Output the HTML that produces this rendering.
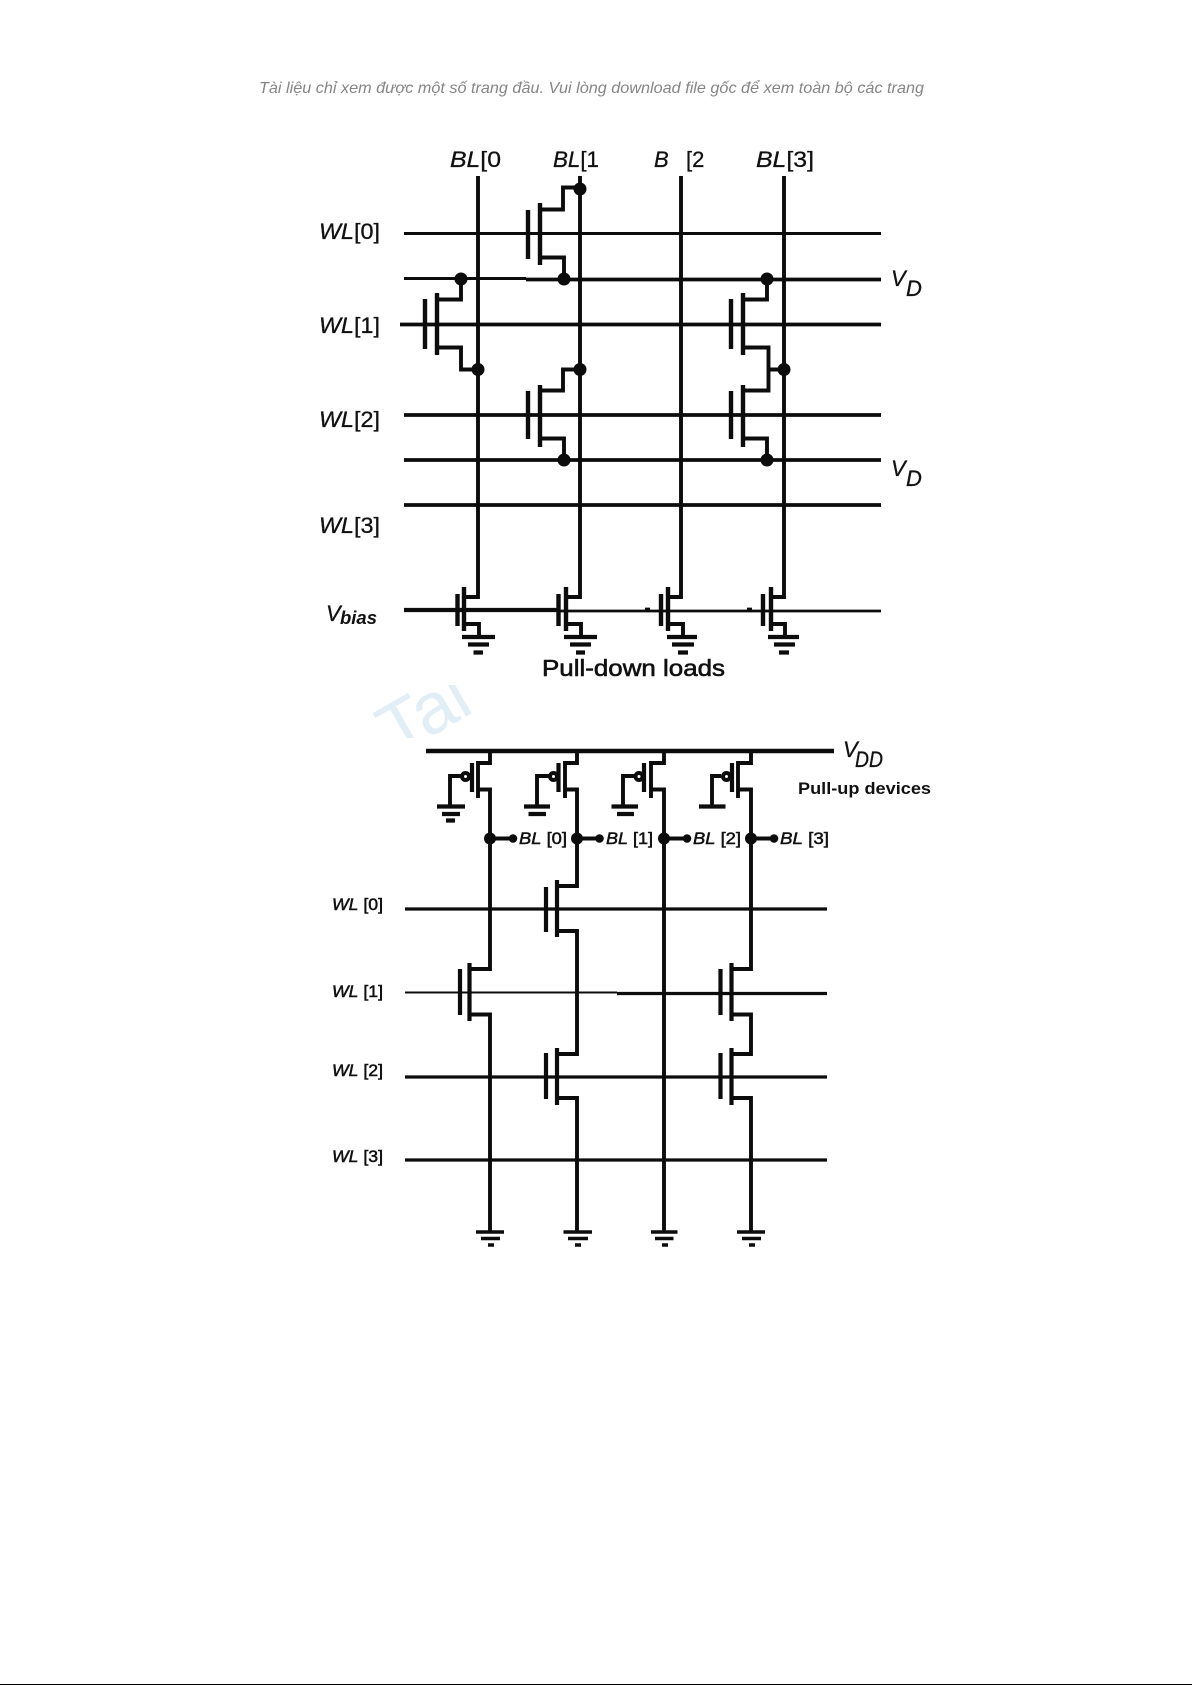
<!DOCTYPE html>
<html><head><meta charset="utf-8"><style>
html,body{margin:0;padding:0;background:#fff}
svg{display:block}
text{font-family:"Liberation Sans",sans-serif;fill:#111}
.i{font-style:italic}
</style></head><body>
<svg width="1192" height="1685" viewBox="0 0 1192 1685" xmlns="http://www.w3.org/2000/svg">
<rect width="1192" height="1685" fill="#fff"/>
<rect y="1684" width="1192" height="1" fill="#000"/>
<text x="259" y="93" class="i" font-size="16" style="fill:#858585" textLength="665" lengthAdjust="spacingAndGlyphs">Tài liệu chỉ xem được một số trang đầu. Vui lòng download file gốc để xem toàn bộ các trang</text>

<defs><clipPath id="wm"><rect x="360" y="685" width="175" height="53"/></clipPath></defs>
<g clip-path="url(#wm)"><text transform="translate(396 757) rotate(-30)" font-size="72" style="fill:#e2eef6">Tai</text></g>

<g fill="none" stroke="#0c0c0c" stroke-width="3.9">
<!-- top horizontals -->
<path d="M404 233.5H881M404 278.5H526" stroke-width="3"/>
<path d="M526 279.5H881M400 324.5H881M404 415H881M404 460H881M404 505H881" stroke-width="3.8"/>
<path d="M404 610H559" stroke-width="4.2"/>
<path d="M559 611H881M645 609h5M747 609h5" stroke-width="2.8"/>
<!-- bit lines top -->
<path d="M478 176V597H464M580 176V597H566M681 176V597H668M784 176V597H771"/>
<!-- T BL1 WL0 -->
<path d="M528 210V259M540 203V265" stroke-width="4.4"/>
<path d="M540 209.5H563V187.5H580M540 257.5H564V279"/>
<!-- T BL0 WL1 -->
<path d="M425 299V349M437 293V355" stroke-width="4.4"/>
<path d="M437 299.500H461V279M437 347.500H461V369.500H478"/>
<!-- T BL1 WL2 -->
<path d="M528 391V439M540 385V447" stroke-width="4.4"/>
<path d="M540 390.500H563V369.500H580M540 438.500H564V460"/>
<!-- T BL3 WL1/WL2 -->
<path d="M731 299V349M743 293V355M731 391V439M743 385V447" stroke-width="4.4"/>
<path d="M743 299.500H767V279M743 347.500H768.500V390.500H743M768.500 369.500H784M743 438.500H767V460"/>
<!-- pull-down loads -->
<path d="M457.500 594V626M464 587V631M558.500 594V626M566 587V631M661 594V626M668 587V631M763 594V626M771 587V631" stroke-width="4.4"/>
<path d="M464 624H479V637M566 624H581V637M668 624H683V637M771 624H785V637"/>
<path d="M462 637H495M468 644.500H489M473.500 652.500H483M564 637H597M570 644.500H591M576 652.500H585M667 637H697M672 644.500H694M678 652.500H688M768 637H799M774 644.500H795M779 652.500H789" stroke-width="4.200"/>
</g>
<g fill="#0c0c0c">
<circle cx="580" cy="189" r="6.500"/><circle cx="461" cy="279" r="6.500"/><circle cx="564" cy="279" r="6.500"/><circle cx="767" cy="279" r="6.500"/>
<circle cx="478" cy="369.500" r="6.500"/><circle cx="580" cy="369.500" r="6.500"/><circle cx="784" cy="369.500" r="6.500"/><circle cx="564" cy="460" r="6.500"/><circle cx="767" cy="460" r="6.500"/>
</g>

<!-- lower circuit -->
<g fill="none" stroke="#0c0c0c" stroke-width="3.9">
<path d="M426 751H834" stroke-width="4.400"/>
<path d="M405 909H827M405 1077H827M405 1160H827" stroke-width="3.200"/>
<path d="M405 992.500H617" stroke-width="2"/>
<path d="M617 993.500H827" stroke-width="3.200"/>
<!-- PMOS -->
<path d="M490 753V763H478V798M478 789.500H490V969H469.500M490 1014.500H469.500H490V1232"/>
<path d="M577 753V763H565V798M565 789.500H577V886H557M557 931H577V1054H557M557 1098H577V1232"/>
<path d="M664 753V763H651V798M651 789.500H664V1232"/>
<path d="M751 753V763H738V798M738 789.500H751V969H731.500M731.500 1014.500H751V1054H731.500M731.500 1098H751V1232"/>
<path d="M472 763V792M558.500 763V792M644 763V792M732 763V792" stroke-width="4.200"/>
<path d="M461 776H450V806M550 776H537V806M634 776H623V806M721 776H712V806"/>
<path d="M437 806.500H465M442 814H460M446 820.500H455M524 806.500H550M528.500 814H546M611.500 806.500H638M617 814H634M699 806.500H725.500" stroke-width="4.200"/>
<circle cx="465.500" cy="776.500" r="3.500" stroke-width="4"/><circle cx="553.500" cy="776.500" r="3.500" stroke-width="4"/><circle cx="639" cy="776.500" r="3.500" stroke-width="4"/><circle cx="726.500" cy="776.500" r="3.500" stroke-width="4"/>
<path d="M490 838.500H513M577 838.500H599.500M664 838.500H687M751 838.500H774"/>
<!-- lower NMOS -->
<path d="M546 887V932M557 880V937M460 969V1015M469.500 963V1021M546 1053V1099M557 1048V1105M720.500 969V1015M731.500 963V1021M720.500 1053V1099M731.500 1048V1105" stroke-width="4.200"/>
<!-- grounds -->
<path d="M476 1232H504M481 1238.500H500M488 1245H494M563.500 1232H592M568 1238.500H588M575 1245H581M651 1232H677.500M655 1238.500H673.500M662 1245H668M737 1232H765M742 1238.500H761M749 1245H755" stroke-width="3.500"/>
</g>
<g fill="#0c0c0c">
<circle cx="490" cy="838.500" r="6"/><circle cx="513" cy="838.500" r="4.300"/><circle cx="577" cy="838.500" r="6"/><circle cx="599.500" cy="838.500" r="4.300"/><circle cx="664" cy="838.500" r="6"/><circle cx="687" cy="838.500" r="4.300"/><circle cx="751" cy="838.500" r="6"/><circle cx="774" cy="838.500" r="4.300"/>
</g>

<!-- top labels -->
<g font-size="22" stroke="#111" stroke-width="0.3">
<text x="450" y="167" textLength="51" lengthAdjust="spacingAndGlyphs"><tspan class="i">BL</tspan>[0</text>
<text x="553" y="167" textLength="46" lengthAdjust="spacingAndGlyphs"><tspan class="i">BL</tspan>[1</text>
<text x="654" y="167" class="i">B</text><text x="686" y="167">[2</text>
<text x="756" y="167" textLength="58" lengthAdjust="spacingAndGlyphs"><tspan class="i">BL</tspan>[3]</text>
<text x="319" y="239" textLength="61" lengthAdjust="spacingAndGlyphs"><tspan class="i">WL</tspan>[0]</text>
<text x="319" y="333" textLength="61" lengthAdjust="spacingAndGlyphs"><tspan class="i">WL</tspan>[1]</text>
<text x="319" y="427" textLength="61" lengthAdjust="spacingAndGlyphs"><tspan class="i">WL</tspan>[2]</text>
<text x="319" y="533" textLength="61" lengthAdjust="spacingAndGlyphs"><tspan class="i">WL</tspan>[3]</text>
<text x="891" y="286" class="i">V</text><text x="906" y="296" class="i">D</text>
<text x="891" y="476" class="i">V</text><text x="906" y="486" class="i">D</text>
<text x="326" y="621" class="i">V</text>
<text x="340" y="624" class="i" font-size="18" font-weight="bold" stroke-width="0" textLength="37" lengthAdjust="spacingAndGlyphs">bias</text>
<text x="542" y="676" font-size="23" textLength="183" lengthAdjust="spacingAndGlyphs" stroke-width="0.6">Pull-down loads</text>
<text x="843" y="757" class="i">V</text><text x="855" y="767" class="i" textLength="28" lengthAdjust="spacingAndGlyphs">DD</text>
<text x="798" y="794" font-size="17" font-weight="bold" stroke-width="0" textLength="133" lengthAdjust="spacingAndGlyphs">Pull-up devices</text>
</g>
<g font-size="17" stroke="#111" stroke-width="0.5">
<text x="519" y="844" textLength="48" lengthAdjust="spacingAndGlyphs"><tspan class="i">BL</tspan> [0]</text>
<text x="606" y="844" textLength="47" lengthAdjust="spacingAndGlyphs"><tspan class="i">BL</tspan> [1]</text>
<text x="693" y="844" textLength="48" lengthAdjust="spacingAndGlyphs"><tspan class="i">BL</tspan> [2]</text>
<text x="780" y="844" textLength="49" lengthAdjust="spacingAndGlyphs"><tspan class="i">BL</tspan> [3]</text>
<text x="332" y="910" textLength="51" lengthAdjust="spacingAndGlyphs"><tspan class="i">WL</tspan> [0]</text>
<text x="332" y="997" textLength="51" lengthAdjust="spacingAndGlyphs"><tspan class="i">WL</tspan> [1]</text>
<text x="332" y="1076" textLength="51" lengthAdjust="spacingAndGlyphs"><tspan class="i">WL</tspan> [2]</text>
<text x="332" y="1162" textLength="51" lengthAdjust="spacingAndGlyphs"><tspan class="i">WL</tspan> [3]</text>
</g>
</svg>
</body></html>
